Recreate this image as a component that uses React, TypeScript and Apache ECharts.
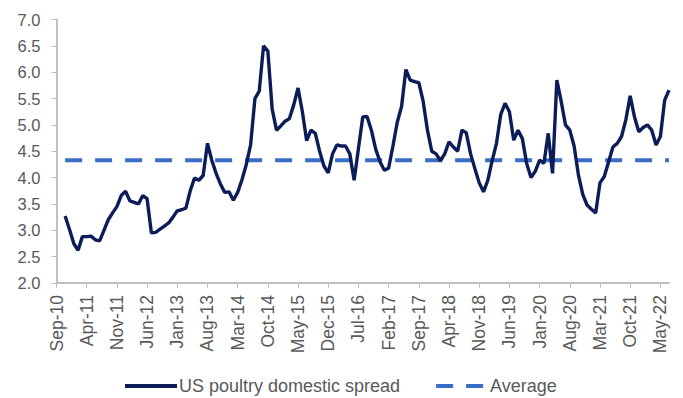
import React, { useEffect, useRef } from "react";
import * as echarts from "echarts";

// Monthly category labels, Sep-10 through Jul-22
const MONTH_NAMES = ["Jan", "Feb", "Mar", "Apr", "May", "Jun", "Jul", "Aug", "Sep", "Oct", "Nov", "Dec"];
const START_YEAR = 2010;
const START_MONTH = 8; // September (0-based)
const MONTH_COUNT = 143;

const months: string[] = [];
for (let i = 0; i < MONTH_COUNT; i++) {
  const m = (START_MONTH + i) % 12;
  const y = START_YEAR + Math.floor((START_MONTH + i) / 12);
  months.push(`${MONTH_NAMES[m]}-${String(y % 100).padStart(2, "0")}`);
}

// Series begins in Nov-10 (two months after the first category)
const LEAD_EMPTY = 2;

// US poultry domestic spread, monthly, Nov-10 .. Jul-22
const spread: number[] = [
  3.27, 3.02, 2.75, 2.62, 2.88, 2.88, 2.89, 2.82, 2.8, 3.0,
  3.2, 3.33, 3.45, 3.66, 3.74, 3.56, 3.53, 3.5, 3.66, 3.6,
  2.95, 2.96, 3.02, 3.08, 3.14, 3.25, 3.37, 3.39, 3.42, 3.75,
  3.99, 3.95, 4.04, 4.65, 4.33, 4.08, 3.88, 3.72, 3.73, 3.57,
  3.72, 3.96, 4.25, 4.62, 5.5, 5.64, 6.5, 6.4, 5.3, 4.9,
  4.98, 5.07, 5.12, 5.38, 5.7, 5.25, 4.7, 4.9, 4.84, 4.5,
  4.22, 4.09, 4.45, 4.62, 4.6, 4.6, 4.45, 3.95, 4.55, 5.15,
  5.16, 4.9, 4.54, 4.3, 4.14, 4.18, 4.6, 5.05, 5.35, 6.05,
  5.85, 5.82, 5.8, 5.45, 4.9, 4.5, 4.45, 4.32, 4.45, 4.68,
  4.58, 4.5, 4.9, 4.85, 4.45, 4.17, 3.9, 3.73, 3.95, 4.32,
  4.65, 5.2, 5.41, 5.25, 4.71, 4.9, 4.74, 4.27, 4.0, 4.12,
  4.33, 4.27, 4.84, 4.08, 5.85, 5.45, 5.0, 4.9, 4.6, 4.05,
  3.68, 3.48, 3.4, 3.33, 3.9, 4.02, 4.3, 4.58, 4.65, 4.78,
  5.1, 5.55, 5.15, 4.87, 4.95, 5.0, 4.9, 4.62, 4.78, 5.47,
  5.66,
];

// Long-run average of the spread
const AVERAGE = 4.33;

const Y_TICKS = { min: 2, max: 7, step: 0.5 };

const SPREAD_NAME = "US poultry domestic spread";
const AVERAGE_NAME = "Average";

const FONT = "'Liberation Sans', Arial, sans-serif";
const TEXT_COLOR = "#595959";
const AXIS_COLOR = "#BFBFBF";
const SPREAD_COLOR = "#0C1C58";
const AVERAGE_COLOR = "#3A6EC6";

export default function App() {
  const ref = useRef<HTMLDivElement>(null);

  useEffect(() => {
    if (!ref.current) return;
    const chart = echarts.init(ref.current, undefined, { renderer: "svg" });

    const spreadData: (number | null)[] = [
      ...Array(LEAD_EMPTY).fill(null),
      ...spread,
    ];
    const avgData: (number | null)[] = spreadData.map((v) => (v === null ? null : AVERAGE));

    chart.setOption({
      animation: false,
      backgroundColor: "#ffffff",
      textStyle: { fontFamily: FONT },
      grid: { left: 56.5, right: 14, top: 19.5, bottom: 115 },
      legend: {
        left: 123,
        top: 377,
        padding: 0,
        itemWidth: 52,
        itemHeight: 18,
        itemGap: 34,
        itemStyle: { opacity: 0 },
        lineStyle: { width: 4 },
        textStyle: {
          color: TEXT_COLOR,
          fontSize: 18,
          lineHeight: 18,
          fontFamily: FONT,
          padding: [0, 0, 0, -3],
        },
        data: [SPREAD_NAME, AVERAGE_NAME],
      },
      xAxis: {
        type: "category",
        data: months,
        boundaryGap: false,
        axisLine: { lineStyle: { color: AXIS_COLOR, width: 2 } },
        axisTick: {
          interval: 6,
          length: 5,
          lineStyle: { color: AXIS_COLOR, width: 1 },
        },
        axisLabel: {
          interval: 6,
          rotate: 90,
          margin: 12,
          fontSize: 17.5,
          color: TEXT_COLOR,
          fontFamily: FONT,
        },
        splitLine: { show: false },
      },
      yAxis: {
        type: "value",
        min: Y_TICKS.min,
        max: Y_TICKS.max,
        interval: Y_TICKS.step,
        axisLine: { show: true, lineStyle: { color: AXIS_COLOR, width: 2 } },
        axisTick: { show: true, length: 5, lineStyle: { color: AXIS_COLOR, width: 1 } },
        axisLabel: {
          margin: 16,
          fontSize: 16.5,
          color: TEXT_COLOR,
          fontFamily: FONT,
          formatter: (v: number) => v.toFixed(1),
        },
        splitLine: { show: false },
      },
      series: [
        {
          name: SPREAD_NAME,
          type: "line",
          data: spreadData,
          symbol: "none",
          connectNulls: false,
          lineStyle: { color: SPREAD_COLOR, width: 3.4 },
          itemStyle: { color: SPREAD_COLOR },
          z: 3,
        },
        {
          name: AVERAGE_NAME,
          type: "line",
          data: avgData,
          symbol: "none",
          lineStyle: { color: AVERAGE_COLOR, width: 4, type: [17, 13] },
          itemStyle: { color: AVERAGE_COLOR },
          z: 2,
        },
      ],
    });

    return () => chart.dispose();
  }, []);

  return (
    <div
      ref={ref}
      style={{ position: "absolute", left: 0, top: 0, width: 683, height: 398 }}
    />
  );
}
